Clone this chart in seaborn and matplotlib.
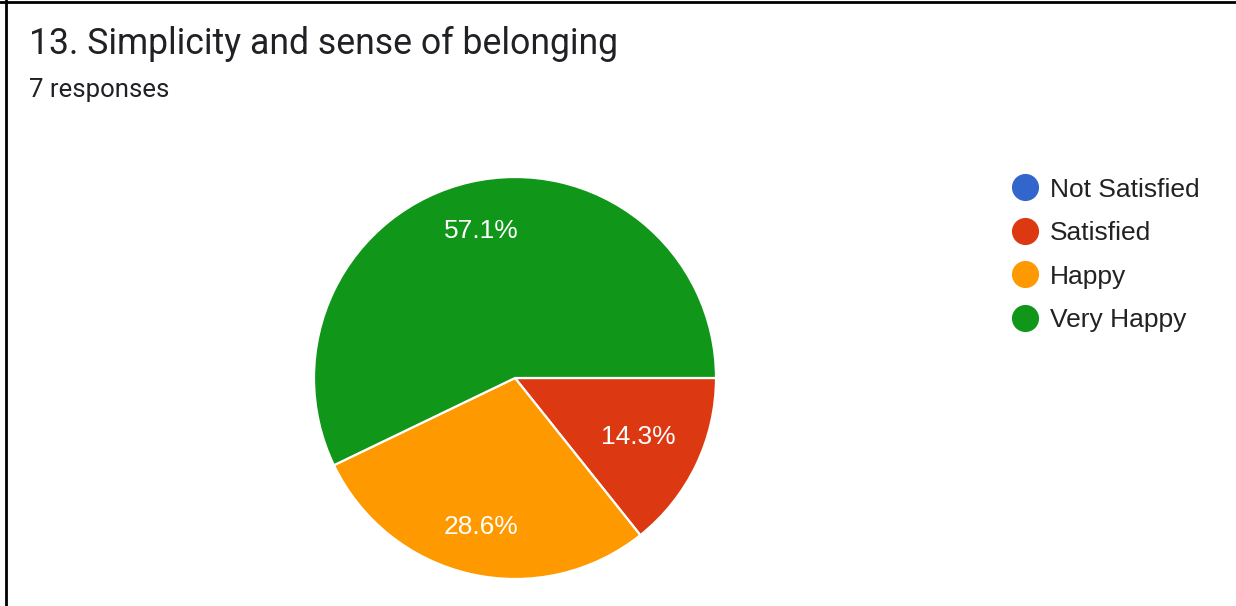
import matplotlib
matplotlib.use("Agg")
import numpy as np
import matplotlib.pyplot as plt
from matplotlib.lines import Line2D
import seaborn as sns

# Survey answers for question 13
categories = ["Not Satisfied", "Satisfied", "Happy", "Very Happy"]
counts = [0, 1, 2, 4]
colors = ["#3366cc", "#dc3912", "#ff9900", "#109618"]
title = "13. Simplicity and sense of belonging"
subtitle = "7 responses"

sns.set_theme(style="white")
plt.rcParams["font.family"] = ["Liberation Sans", "DejaVu Sans"]

W, H = 1236, 606
fig = plt.figure(figsize=(W / 100, H / 100), dpi=100)
fig.patch.set_facecolor("white")

# card border (top and left edges)
fig.add_artist(Line2D([0, 1], [1 - 1.5 / H, 1 - 1.5 / H], color="black", lw=2.0,
                      transform=fig.transFigure))
fig.add_artist(Line2D([6 / W, 6 / W], [0, 1], color="black", lw=2.0,
                      transform=fig.transFigure))

fig.text(29 / W, 1 - 44 / H, title, fontsize=25.7, family="Roboto",
         color="#202124", va="center", ha="left")
fig.text(29 / W, 1 - 90 / H, subtitle, fontsize=18.5, family="Roboto",
         color="#202124", va="center", ha="left")

# pie axes: centre (515, 378), radius 201 px
cx, cy, r = 515, 378, 201
ax = fig.add_axes([(cx - r) / W, (H - cy - r) / H, 2 * r / W, 2 * r / H])


def pct_label(p):
    return "" if p < 0.05 else f"{p:.1f}%"


wedges, texts, autotexts = ax.pie(
    counts, colors=colors, startangle=0, counterclock=False,
    autopct=pct_label, pctdistance=0.75,
    wedgeprops=dict(edgecolor="white", linewidth=1.6),
    textprops=dict(color="white", fontsize=19),
)
# narrow slices get their label a bit closer to the centre
label_dist = [0.75, 0.68, 0.76, 0.75]
for w, t, d in zip(wedges, autotexts, label_dist):
    mid = np.deg2rad((w.theta1 + w.theta2) / 2)
    t.set_position((d * np.cos(mid), d * np.sin(mid)))

ax.set_xlim(-1, 1)
ax.set_ylim(-1, 1)
ax.set_aspect("equal")
ax.axis("off")

# legend
handles = [Line2D([0], [0], marker="o", color="none", markerfacecolor=c,
                  markeredgecolor=c, markersize=18.5) for c in colors]
leg = fig.legend(handles, categories, loc="upper left",
                 bbox_to_anchor=(1001 / W, 1 - 167 / H), frameon=False,
                 fontsize=19, handlelength=1.0, handletextpad=0.45,
                 labelspacing=0.74, borderaxespad=0)
for t in leg.get_texts():
    t.set_color("#222222")

fig.savefig("out.png", dpi=100, facecolor="white")
